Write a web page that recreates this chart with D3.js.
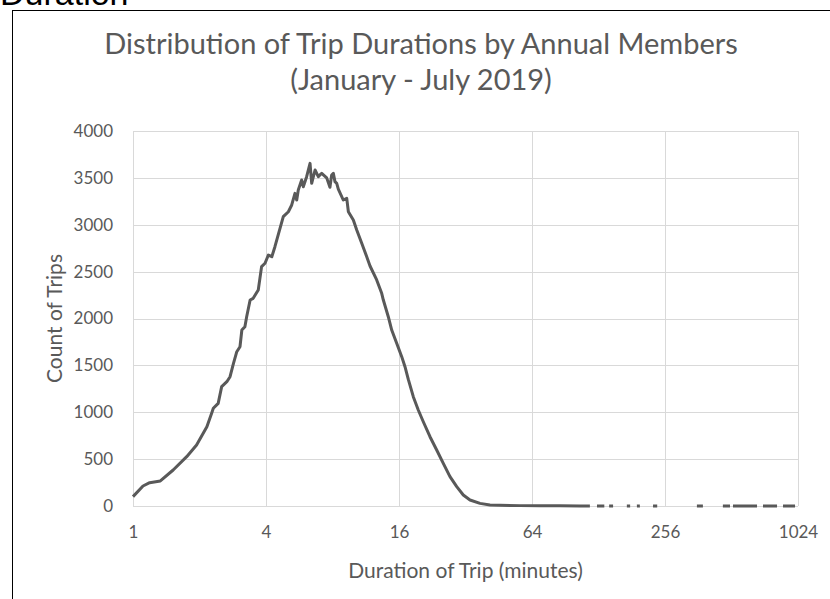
<!DOCTYPE html>
<html>
<head>
<meta charset="utf-8">
<script src="https://cdn.jsdelivr.net/npm/d3@7"></script>
<style>
  body { margin: 0; background: #fff; }
  svg { display: block; }
  .tick text { font-family: Lato, "Open Sans", sans-serif; fill: #595959; }
</style>
</head>
<body>
<div id="chart"></div>
<script>
// trip duration (minutes) vs number of trips
var durations = [1.00, 1.11, 1.19, 1.33, 1.52, 1.75, 1.94, 2.16, 2.27, 2.31, 2.43, 2.52, 2.66,
  2.75, 2.85, 2.95, 3.05, 3.11, 3.21, 3.27, 3.39, 3.50, 3.69, 3.82, 3.96, 4.10, 4.25, 4.39,
  4.79, 5.05, 5.23, 5.41, 5.51, 5.60, 5.80, 5.90, 6.11, 6.33, 6.44, 6.67, 6.90, 7.02, 7.15,
  7.53, 7.79, 7.93, 8.07, 8.21, 8.36, 8.50, 8.95, 9.28, 9.44, 9.94, 10.30, 10.85, 11.43,
  11.83, 12.68, 13.36, 13.59, 14.31, 14.83, 15.62, 16.46, 17.03, 17.63, 18.57, 19.56, 20.61,
  22.10, 23.70, 25.39, 27.22, 29.20, 31.27, 33.54, 37.22, 41.30, 45.8, 56.5, 69.5, 85.6,
  105.6, 117, 121, 126, 136, 140, 143, 149, 160, 172, 178, 185, 191, 197, 210, 226, 236,
  300, 357, 380, 420, 468, 504, 512, 520, 668, 690, 711, 823, 850, 876, 993];
var counts = [100, 213, 249, 267, 384, 526, 651, 846, 989, 1042, 1095, 1273, 1326,
  1379, 1522, 1646, 1699, 1877, 1913, 2019, 2197, 2215, 2304, 2553, 2589, 2677, 2659, 2766,
  3086, 3139, 3211, 3335, 3264, 3371, 3477, 3406, 3513, 3655, 3442, 3584, 3513, 3531, 3548,
  3500, 3400, 3531, 3548, 3460, 3442, 3380, 3264, 3282, 3139, 3051, 2944, 2802, 2659,
  2560, 2411, 2269, 2197, 2019, 1877, 1735, 1593, 1486, 1350, 1166, 1024, 899,
  739, 597, 455, 313, 206, 117, 64, 28, 11, 8, 4, 3, 2,
  1, 1, null, 1, 1, null, 1, 1, null, 1, 1, null, 0, 1, null, 1, 1,
  null, 1, 1, null, 1, 1, null, 1, 1, null, 1, 1, null, 1, 1];

var xTicks = [1, 4, 16, 64, 256, 1024];
var yTicks = [0, 500, 1000, 1500, 2000, 2500, 3000, 3500, 4000];

var chartTitle = ["Distribution of Trip Durations by Annual Members", "(January - July 2019)"];

var svgWidth = 830;
var svgHeight = 599;
var margin = { top: 131, right: 32, bottom: 93, left: 133 };
var width = svgWidth - margin.left - margin.right;
var height = svgHeight - margin.top - margin.bottom;

var svg = d3.select("#chart")
  .append("svg")
  .attr("width", svgWidth)
  .attr("height", svgHeight);

svg.append("rect")
  .attr("width", svgWidth)
  .attr("height", svgHeight)
  .attr("fill", "#fff");

// heading of the page above, cut off at the top
svg.append("text")
  .attr("x", 0)
  .attr("y", 5)
  .style("font-family", "Liberation Sans, Arial, sans-serif")
  .style("font-size", "34px")
  .attr("fill", "#000")
  .text("Duration");

// chart frame
svg.append("rect")
  .attr("x", 12.5)
  .attr("y", 10.5)
  .attr("width", 840)
  .attr("height", 620)
  .attr("fill", "none")
  .attr("stroke", "#000")
  .attr("stroke-width", 1);

var chartGroup = svg.append("g")
  .attr("transform", `translate(${margin.left}, ${margin.top})`);

var xScale = d3.scaleLog().base(2)
  .domain([1, 1024])
  .range([0, width]);

var yScale = d3.scaleLinear()
  .domain([0, 4000])
  .range([height, 0]);

// gridlines
chartGroup.append("g")
  .selectAll("line.h")
  .data(yTicks)
  .enter()
  .append("line")
  .attr("x1", 0)
  .attr("x2", width)
  .attr("y1", d => Math.round(yScale(d)) + 0.5)
  .attr("y2", d => Math.round(yScale(d)) + 0.5)
  .attr("stroke", "#d9d9d9");

chartGroup.append("g")
  .selectAll("line.v")
  .data(xTicks)
  .enter()
  .append("line")
  .attr("x1", d => Math.round(xScale(d)) + 0.5)
  .attr("x2", d => Math.round(xScale(d)) + 0.5)
  .attr("y1", 0)
  .attr("y2", height)
  .attr("stroke", "#d9d9d9");

// axes (labels only, lines come from the grid)
var bottomAxis = d3.axisBottom(xScale)
  .tickValues(xTicks)
  .tickFormat(d3.format("d"))
  .tickSize(0)
  .tickPadding(20);

var leftAxis = d3.axisLeft(yScale)
  .tickValues(yTicks)
  .tickFormat(d3.format("d"))
  .tickSize(0)
  .tickPadding(20);

chartGroup.append("g")
  .attr("transform", `translate(0, ${height})`)
  .call(bottomAxis)
  .call(g => g.select(".domain").remove())
  .selectAll("text")
  .style("font-size", "17px");

chartGroup.append("g")
  .call(leftAxis)
  .call(g => g.select(".domain").remove())
  .selectAll("text")
  .style("font-size", "17px");

// the line
var points = durations.map((d, i) => ({ x: d, y: counts[i] }));

var line = d3.line()
  .defined(d => d.y !== null)
  .x(d => xScale(d.x))
  .y(d => yScale(d.y));

chartGroup.append("path")
  .datum(points)
  .attr("d", line)
  .attr("fill", "none")
  .attr("stroke", "#595959")
  .attr("stroke-width", 3)
  .attr("stroke-linejoin", "round");

// titles
svg.append("g")
  .selectAll("text")
  .data(chartTitle)
  .enter()
  .append("text")
  .attr("x", 421)
  .attr("y", (d, i) => 54 + i * 36)
  .attr("text-anchor", "middle")
  .style("font-family", "Lato, sans-serif")
  .style("font-size", "29px")
  .attr("fill", "#595959")
  .text(d => d);

chartGroup.append("text")
  .attr("transform", "rotate(-90)")
  .attr("x", -height / 2)
  .attr("y", -71)
  .attr("text-anchor", "middle")
  .style("font-family", "Lato, sans-serif")
  .style("font-size", "21px")
  .attr("fill", "#595959")
  .text("Count of Trips");

chartGroup.append("text")
  .attr("x", width / 2)
  .attr("y", height + 72)
  .attr("text-anchor", "middle")
  .style("font-family", "Lato, sans-serif")
  .style("font-size", "21px")
  .attr("fill", "#595959")
  .text("Duration of Trip (minutes)");
</script>
</body>
</html>
